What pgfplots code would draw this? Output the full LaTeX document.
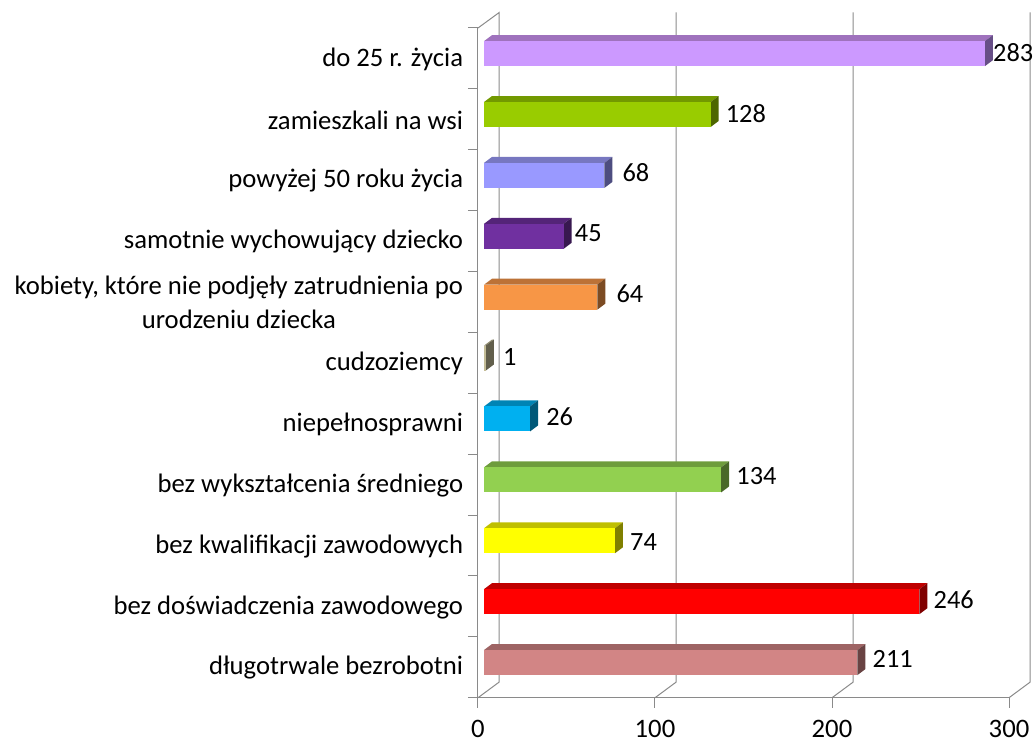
\documentclass[border=0pt]{standalone}
\usepackage{fontspec}
\setmainfont{Carlito}
\usepackage{pgfplots}
\pgfplotsset{compat=1.18}
\definecolor{axisgray}{HTML}{8A8A8A}
\definecolor{aF}{HTML}{D28585}\definecolor{aT}{HTML}{9E6464}\definecolor{aS}{HTML}{694343}
\definecolor{bF}{HTML}{FF0000}\definecolor{bT}{HTML}{BF0000}\definecolor{bS}{HTML}{800000}
\definecolor{cF}{HTML}{FFFF00}\definecolor{cT}{HTML}{BFBF00}\definecolor{cS}{HTML}{808000}
\definecolor{dF}{HTML}{92D050}\definecolor{dT}{HTML}{6E9C3C}\definecolor{dS}{HTML}{496828}
\definecolor{eF}{HTML}{00B0F0}\definecolor{eT}{HTML}{0084B4}\definecolor{eS}{HTML}{005878}
\definecolor{fF}{HTML}{C4BD97}\definecolor{fT}{HTML}{938E71}\definecolor{fS}{HTML}{625F4C}
\definecolor{gF}{HTML}{F79646}\definecolor{gT}{HTML}{BC7237}\definecolor{gS}{HTML}{7C4B23}
\definecolor{hF}{HTML}{7030A0}\definecolor{hT}{HTML}{542478}\definecolor{hS}{HTML}{381850}
\definecolor{iF}{HTML}{9999FF}\definecolor{iT}{HTML}{7777C0}\definecolor{iS}{HTML}{4D4D80}
\definecolor{jF}{HTML}{99CC00}\definecolor{jT}{HTML}{729900}\definecolor{jS}{HTML}{4D6600}
\definecolor{kF}{HTML}{CC99FF}\definecolor{kT}{HTML}{9F72BD}\definecolor{kS}{HTML}{674F87}
\newcommand{\chartfont}{\fontsize{20}{25.5}\selectfont}
\newcommand{\valuefont}{\fontsize{19.75}{25.5}\selectfont}

% value, row, colour prefix, label gap (px), label shift (px)
\newcommand{\threedbar}[5]{%
  \pgfmathsetmacro\xa{3.39}%
  \pgfmathsetmacro\xb{3.39+#1}%
  \pgfmathsetmacro\xc{\xa+4.52}%
  \pgfmathsetmacro\xd{\xb+4.52}%
  \pgfmathsetmacro\ya{#2+0.373}%
  \pgfmathsetmacro\yb{\ya+0.4106}%
  \pgfmathsetmacro\yc{\yb+0.0986}%
  \pgfmathsetmacro\yd{\ya+0.0986}%
  \addplot[fill=#3T,draw=none,mark=none] coordinates {(\xa,\yb) (\xb,\yb) (\xd,\yc) (\xc,\yc)} -- cycle;
  \addplot[fill=#3S,draw=none,mark=none] coordinates {(\xb,\ya) (\xb,\yb) (\xd,\yc) (\xd,\yd)} -- cycle;
  \addplot[fill=#3F,draw=none,mark=none] coordinates {(\xa,\ya) (\xb,\ya) (\xb,\yb) (\xa,\yb)} -- cycle;
  \pgfmathsetmacro\ym{\ya+0.2053}%
  \edef\temp{\noexpand\node[anchor=west,inner sep=0pt,font=\noexpand\valuefont,xshift=#4*0.75pt,yshift=#5*0.75pt] at (axis cs:\xd,\ym) {#1};}\temp
}

\begin{document}
\begin{tikzpicture}
  \path[use as bounding box] (-358.5pt,-33.2pt) rectangle (417pt,523.3pt);
  \begin{axis}[
    scale only axis, width=398.25pt, height=502.3pt,
    xmin=0, xmax=300, ymin=0, ymax=11,
    clip=false,
    axis x line=bottom, axis y line=left,
    axis line style={-,draw=axisgray,line width=0.75pt},
    tick style={draw=axisgray,line width=0.75pt},
    tick align=outside, major tick length=7.5pt,
    xtick={0,100,200,300},
    ytick={0,1,...,11},
    yticklabels={długotrwale bezrobotni,
      bez doświadczenia zawodowego,
      bez kwalifikacji zawodowych,
      bez wykształcenia średniego,
      niepełnosprawni,
      cudzoziemcy,
      {kobiety, które nie podjęły zatrudnienia po\\urodzeniu dziecka},
      samotnie wychowujący dziecko,
      powyżej 50 roku życia,
      zamieszkali na wsi,
      do 25 r. życia,
      {}},
    y tick label style={font=\chartfont,align=center,inner sep=0pt,yshift=22.3pt,xshift=-3.5pt},
    x tick label style={font=\chartfont,yshift=-5.5pt},
    /pgf/number format/assume math mode=true,
  ]
    % floor diagonals and back wall
    \addplot[axisgray,line width=0.75pt,mark=none] coordinates {(0,0) (12,0.258) (12,11.255) (0,11)};
    \addplot[axisgray,line width=0.75pt,mark=none] coordinates {(100,0) (112,0.258) (112,11.255)};
    \addplot[axisgray,line width=0.75pt,mark=none] coordinates {(200,0) (212,0.258) (212,11.255)};
    \addplot[axisgray,line width=0.75pt,mark=none] coordinates {(300,0) (312,0.258) (312,11.255)};

    \threedbar{211}{0}{a}{7}{4}
    \threedbar{246}{1}{b}{6}{2}
    \threedbar{74}{2}{c}{7}{-1}
    \threedbar{134}{3}{d}{7}{4}
    \threedbar{26}{4}{e}{8}{2}
    \threedbar{1}{5}{f}{9}{1}
    \threedbar{64}{6}{g}{11}{4}
    \threedbar{45}{7}{h}{3}{3}
    \threedbar{68}{8}{i}{10}{3}
    \threedbar{128}{9}{j}{7}{1}
    \threedbar{283}{10}{k}{0}{1}
  \end{axis}
\end{tikzpicture}
\end{document}
